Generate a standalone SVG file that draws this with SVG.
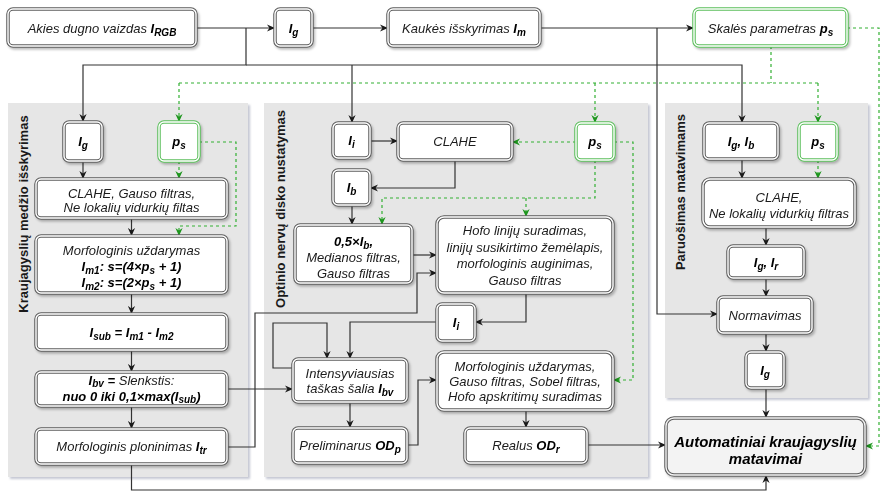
<svg xmlns="http://www.w3.org/2000/svg" width="882" height="495" viewBox="0 0 882 495">
<defs>
<style>
.pan{fill:#e6e6e6}
.bo{fill:#fff;stroke:#5e5e5e;stroke-width:3.5}
.go{fill:#fff;stroke:#5cbf5c;stroke-width:3.5}
.ao{fill:#f3f3f3;stroke:#5e5e5e;stroke-width:3.5}
.bi{fill:none;stroke:#fff;stroke-width:1.4}
.ai{fill:none;stroke:#f3f3f3;stroke-width:1.4}
text{font-family:"Liberation Sans",Arial,sans-serif;font-size:13px;font-style:italic;fill:#1a1a1a}
.t{text-anchor:middle}
.b{font-weight:bold;fill:#000}
.s{font-size:10px}
.ttl{font-style:normal;font-weight:bold;text-anchor:middle;fill:#1a1a1a}
.big{font-size:15px}
.c{fill:none;stroke:#333;stroke-width:1.2}
.g{fill:none;stroke:#33b033;stroke-width:1.2;stroke-dasharray:3 3}
</style>
<filter id="sh" x="-10%" y="-10%" width="130%" height="130%">
<feDropShadow dx="1.5" dy="2" stdDeviation="1" flood-color="#000" flood-opacity="0.25"/>
</filter>
<filter id="psh" x="-5%" y="-5%" width="110%" height="110%">
<feDropShadow dx="2" dy="2" stdDeviation="1.2" flood-color="#8a90a8" flood-opacity="0.5"/>
</filter>
<marker id="a" viewBox="0 0 10 10" refX="10" refY="5" markerWidth="8" markerHeight="8" orient="auto" markerUnits="userSpaceOnUse"><path d="M0,0.5 L10,5 L0,9.5 L3,5 z" fill="#1a1a1a"/></marker>
<marker id="ga" viewBox="0 0 10 10" refX="10" refY="5" markerWidth="8" markerHeight="8" orient="auto" markerUnits="userSpaceOnUse"><path d="M0,0.5 L10,5 L0,9.5 L3,5 z" fill="#1e961e"/></marker>
</defs>
<rect width="882" height="495" fill="#fff"/>

<g id="panels">
<g id="panel-left"><rect class="pan" x="8" y="103" width="240" height="374" filter="url(#psh)"/><text class="ttl" transform="translate(28,214) rotate(-90)">Kraujagyslių medžio išskyrimas</text></g>
<g id="panel-mid"><rect class="pan" x="264" y="103" width="384" height="374" filter="url(#psh)"/><text class="ttl" transform="translate(285,209) rotate(-90)">Optinio nervų disko nustatymas</text></g>
<g id="panel-right"><rect class="pan" x="665" y="103" width="203" height="295" filter="url(#psh)"/><text class="ttl" transform="translate(685,192) rotate(-90)">Paruošimas matavimams</text></g>
</g>

<g id="connectors">
<path class="c" d="M196,28H275" marker-end="url(#a)"/>
<path class="c" d="M246,28V65H83V122" marker-end="url(#a)"/>
<path class="c" d="M246,65H742V123" marker-end="url(#a)"/>
<path class="c" d="M352,65V123" marker-end="url(#a)"/>
<path class="c" d="M312,28H388" marker-end="url(#a)"/>
<path class="c" d="M540,28H694" marker-end="url(#a)"/>
<path class="c" d="M657,28V314H718" marker-end="url(#a)"/>
<path class="c" d="M83,161V179" marker-end="url(#a)"/>
<path class="c" d="M131.5,218V236" marker-end="url(#a)"/>
<path class="c" d="M131.5,293V314" marker-end="url(#a)"/>
<path class="c" d="M131.5,350V372" marker-end="url(#a)"/>
<path class="c" d="M131.5,406V429" marker-end="url(#a)"/>
<path class="c" d="M131.5,464V490H766V475" marker-end="url(#a)"/>
<path class="c" d="M227,447H255V313H417V273H437" marker-end="url(#a)"/>
<path class="c" d="M227,389H293" marker-end="url(#a)"/>
<path class="c" d="M370,141H398" marker-end="url(#a)"/>
<path class="c" d="M455,160V188H370" marker-end="url(#a)"/>
<path class="c" d="M352,205V225" marker-end="url(#a)"/>
<path class="c" d="M412,255H437" marker-end="url(#a)"/>
<path class="c" d="M526,293V322H475" marker-end="url(#a)"/>
<path class="c" d="M437,322H350V359" marker-end="url(#a)"/>
<path class="c" d="M293,368H273V323H327V359" marker-end="url(#a)"/>
<path class="c" d="M350,402V428" marker-end="url(#a)"/>
<path class="c" d="M407,445H418V380H437" marker-end="url(#a)"/>
<path class="c" d="M526,410V428" marker-end="url(#a)"/>
<path class="c" d="M587,445H666" marker-end="url(#a)"/>
<path class="c" d="M742,159V179" marker-end="url(#a)"/>
<path class="c" d="M766,227V246" marker-end="url(#a)"/>
<path class="c" d="M766,278V297" marker-end="url(#a)"/>
<path class="c" d="M766,333V352" marker-end="url(#a)"/>
<path class="c" d="M766,388V418" marker-end="url(#a)"/>
<path class="g" d="M771,46V83"/>
<path class="g" d="M179,83H818"/>
<path class="g" d="M179,83V122" marker-end="url(#ga)"/>
<path class="g" d="M595,83V123" marker-end="url(#ga)"/>
<path class="g" d="M818,83V123" marker-end="url(#ga)"/>
<path class="g" d="M179,161V179" marker-end="url(#ga)"/>
<path class="g" d="M199,142H236V226H179V236" marker-end="url(#ga)"/>
<path class="g" d="M576,142H512" marker-end="url(#ga)"/>
<path class="g" d="M595,160V198H382V225" marker-end="url(#ga)"/>
<path class="g" d="M526,198V217" marker-end="url(#ga)"/>
<path class="g" d="M614,142H633V380H613" marker-end="url(#ga)"/>
<path class="g" d="M818,160V179" marker-end="url(#ga)"/>
<path class="g" d="M847,28H879V446H865" marker-end="url(#ga)"/>
</g>

<g id="n-input" filter="url(#sh)"><rect class="bo" x="8" y="9" width="188" height="37" rx="5"/><rect class="bi" x="8" y="9" width="188" height="37" rx="5"/><text class="t" x="102" y="32.5">Akies dugno vaizdas <tspan class="b">I</tspan><tspan class="b s" dy="3">RGB</tspan></text></g>
<g id="n-ig-top" filter="url(#sh)"><rect class="bo" x="275" y="9" width="37" height="37" rx="5"/><rect class="bi" x="275" y="9" width="37" height="37" rx="5"/><text class="t" x="293.5" y="32.5"><tspan class="b">I</tspan><tspan class="b s" dy="3">g</tspan></text></g>
<g id="n-mask" filter="url(#sh)"><rect class="bo" x="388" y="9" width="152" height="37" rx="5"/><rect class="bi" x="388" y="9" width="152" height="37" rx="5"/><text class="t" x="464" y="32.5">Kaukės išskyrimas <tspan class="b">I</tspan><tspan class="b s" dy="3">m</tspan></text></g>
<g id="n-scale" filter="url(#sh)"><rect class="go" x="694" y="9" width="153" height="37" rx="5"/><rect class="bi" x="694" y="9" width="153" height="37" rx="5"/><text class="t" x="770.5" y="32.5">Skalės parametras <tspan class="b">p</tspan><tspan class="b s" dy="3">s</tspan></text></g>

<g id="l-ig" filter="url(#sh)"><rect class="bo" x="64" y="122" width="38" height="39" rx="5"/><rect class="bi" x="64" y="122" width="38" height="39" rx="5"/><text class="t" x="83" y="146"><tspan class="b">I</tspan><tspan class="b s" dy="3">g</tspan></text></g>
<g id="l-ps" filter="url(#sh)"><rect class="go" x="159" y="122" width="40" height="39" rx="5"/><rect class="bi" x="159" y="122" width="40" height="39" rx="5"/><text class="t" x="179" y="146"><tspan class="b">p</tspan><tspan class="b s" dy="3">s</tspan></text></g>
<g id="l-clahe" filter="url(#sh)"><rect class="bo" x="36" y="179" width="191" height="39" rx="5"/><rect class="bi" x="36" y="179" width="191" height="39" rx="5"/><text class="t" x="131.5" y="197.5">CLAHE, Gauso filtras,</text><text class="t" x="131.5" y="212">Ne lokalių vidurkių filtas</text></g>
<g id="l-morf" filter="url(#sh)"><rect class="bo" x="36" y="236" width="191" height="57" rx="5"/><rect class="bi" x="36" y="236" width="191" height="57" rx="5"/><text class="t" x="131.5" y="254.5" fill="#333">Morfologinis uždarymas</text><text class="t b" x="131.5" y="270.5">I<tspan class="s" dy="3">m1</tspan><tspan dy="-3">: s=(4×p</tspan><tspan class="s" dy="3">s</tspan><tspan dy="-3"> + 1)</tspan></text><text class="t b" x="131.5" y="287">I<tspan class="s" dy="3">m2</tspan><tspan dy="-3">: s=(2×p</tspan><tspan class="s" dy="3">s</tspan><tspan dy="-3"> + 1)</tspan></text></g>
<g id="l-sub" filter="url(#sh)"><rect class="bo" x="36" y="314" width="191" height="36" rx="5"/><rect class="bi" x="36" y="314" width="191" height="36" rx="5"/><text class="t b" x="131.5" y="336.5">I<tspan class="s" dy="3">sub</tspan><tspan dy="-3"> = I</tspan><tspan class="s" dy="3">m1</tspan><tspan dy="-3"> - I</tspan><tspan class="s" dy="3">m2</tspan></text></g>
<g id="l-bv" filter="url(#sh)"><rect class="bo" x="36" y="372" width="191" height="34" rx="5"/><rect class="bi" x="36" y="372" width="191" height="34" rx="5"/><text class="t" x="131.5" y="385" font-size="12.5"><tspan class="b">I</tspan><tspan class="b s" dy="2">bv</tspan><tspan class="b" dy="-2"> =</tspan> Slenkstis:</text><text class="t b" x="131.5" y="400.5" font-size="12.5">nuo 0 iki 0,1×max(I<tspan class="s" dy="2">sub</tspan><tspan dy="-2">)</tspan></text></g>
<g id="l-tr" filter="url(#sh)"><rect class="bo" x="36" y="429" width="191" height="35" rx="5"/><rect class="bi" x="36" y="429" width="191" height="35" rx="5"/><text class="t" x="131.5" y="451">Morfologinis ploninimas <tspan class="b">I</tspan><tspan class="b s" dy="3">tr</tspan></text></g>

<g id="m-ii" filter="url(#sh)"><rect class="bo" x="333" y="123" width="37" height="35" rx="5"/><rect class="bi" x="333" y="123" width="37" height="35" rx="5"/><text class="t" x="351.5" y="144.5"><tspan class="b">I</tspan><tspan class="b s" dy="3">i</tspan></text></g>
<g id="m-clahe" filter="url(#sh)"><rect class="bo" x="398" y="123" width="114" height="37" rx="5"/><rect class="bi" x="398" y="123" width="114" height="37" rx="5"/><text class="t" x="455" y="146">CLAHE</text></g>
<g id="m-ib" filter="url(#sh)"><rect class="bo" x="333" y="170" width="37" height="35" rx="5"/><rect class="bi" x="333" y="170" width="37" height="35" rx="5"/><text class="t" x="351.5" y="191.5"><tspan class="b">I</tspan><tspan class="b s" dy="3">b</tspan></text></g>
<g id="m-ps" filter="url(#sh)"><rect class="go" x="576" y="123" width="38" height="37" rx="5"/><rect class="bi" x="576" y="123" width="38" height="37" rx="5"/><text class="t" x="595" y="146"><tspan class="b">p</tspan><tspan class="b s" dy="3">s</tspan></text></g>
<g id="m-median" filter="url(#sh)"><rect class="bo" x="295" y="225" width="117" height="58" rx="5"/><rect class="bi" x="295" y="225" width="117" height="58" rx="5"/><text class="t b" x="353.5" y="246">0,5×I<tspan class="s" dy="3">b</tspan><tspan dy="-3">,</tspan></text><text class="t" x="353.5" y="262">Medianos filtras,</text><text class="t" x="353.5" y="277.5">Gauso filtras</text></g>
<g id="m-hough" filter="url(#sh)"><rect class="bo" x="437" y="217" width="176" height="76" rx="7"/><rect class="bi" x="437" y="217" width="176" height="76" rx="7"/><text class="t" x="525" y="235">Hofo linijų suradimas,</text><text class="t" x="525" y="251.5">linijų susikirtimo žemėlapis,</text><text class="t" x="525" y="268">morfologinis auginimas,</text><text class="t" x="525" y="284.5">Gauso filtras</text></g>
<g id="m-ii2" filter="url(#sh)"><rect class="bo" x="437" y="304" width="38" height="37" rx="5"/><rect class="bi" x="437" y="304" width="38" height="37" rx="5"/><text class="t" x="456" y="327"><tspan class="b">I</tspan><tspan class="b s" dy="3">i</tspan></text></g>
<g id="m-intens" filter="url(#sh)"><rect class="bo" x="293" y="359" width="114" height="43" rx="5"/><rect class="bi" x="293" y="359" width="114" height="43" rx="5"/><text class="t" x="350" y="377.5">Intensyviausias</text><text class="t" x="350" y="393">taškas šalia <tspan class="b">I</tspan><tspan class="b s" dy="3">bv</tspan></text></g>
<g id="m-prelim" filter="url(#sh)"><rect class="bo" x="293" y="428" width="114" height="35" rx="5"/><rect class="bi" x="293" y="428" width="114" height="35" rx="5"/><text class="t" x="350" y="450">Preliminarus <tspan class="b">OD</tspan><tspan class="b s" dy="3">p</tspan></text></g>
<g id="m-morf" filter="url(#sh)"><rect class="bo" x="437" y="352" width="176" height="58" rx="7"/><rect class="bi" x="437" y="352" width="176" height="58" rx="7"/><text class="t" x="525" y="370.5">Morfologinis uždarymas,</text><text class="t" x="525" y="385.5">Gauso filtras, Sobel filtras,</text><text class="t" x="525" y="400.5">Hofo apskritimų suradimas</text></g>
<g id="m-real" filter="url(#sh)"><rect class="bo" x="465" y="428" width="122" height="35" rx="5"/><rect class="bi" x="465" y="428" width="122" height="35" rx="5"/><text class="t" x="526" y="450">Realus <tspan class="b">OD</tspan><tspan class="b s" dy="3">r</tspan></text></g>

<g id="r-igib" filter="url(#sh)"><rect class="bo" x="704" y="123" width="74" height="36" rx="5"/><rect class="bi" x="704" y="123" width="74" height="36" rx="5"/><text class="t b" x="741" y="145.5">I<tspan class="s" dy="3">g</tspan><tspan dy="-3">, I</tspan><tspan class="s" dy="3">b</tspan></text></g>
<g id="r-ps" filter="url(#sh)"><rect class="go" x="799" y="123" width="38" height="37" rx="5"/><rect class="bi" x="799" y="123" width="38" height="37" rx="5"/><text class="t" x="818" y="146"><tspan class="b">p</tspan><tspan class="b s" dy="3">s</tspan></text></g>
<g id="r-clahe" filter="url(#sh)"><rect class="bo" x="703" y="179" width="152" height="48" rx="7"/><rect class="bi" x="703" y="179" width="152" height="48" rx="7"/><text class="t" x="779" y="201.5">CLAHE,</text><text class="t" x="779" y="217.5">Ne lokalių vidurkių filtras</text></g>
<g id="r-igir" filter="url(#sh)"><rect class="bo" x="728" y="246" width="76" height="32" rx="5"/><rect class="bi" x="728" y="246" width="76" height="32" rx="5"/><text class="t b" x="766" y="266.5">I<tspan class="s" dy="3">g</tspan><tspan dy="-3">, I</tspan><tspan class="s" dy="3">r</tspan></text></g>
<g id="r-norm" filter="url(#sh)"><rect class="bo" x="718" y="297" width="94" height="36" rx="5"/><rect class="bi" x="718" y="297" width="94" height="36" rx="5"/><text class="t" x="765" y="319.5">Normavimas</text></g>
<g id="r-ig" filter="url(#sh)"><rect class="bo" x="746" y="352" width="38" height="36" rx="5"/><rect class="bi" x="746" y="352" width="38" height="36" rx="5"/><text class="t" x="765" y="374.5"><tspan class="b">I</tspan><tspan class="b s" dy="3">g</tspan></text></g>
<g id="n-auto" filter="url(#sh)"><rect class="ao" x="666" y="418" width="199" height="57" rx="8"/><rect class="ai" x="666" y="418" width="199" height="57" rx="8"/><text class="t b big" x="765.5" y="447">Automatiniai kraujagyslių</text><text class="t b big" x="765.5" y="464">matavimai</text></g>
</svg>
